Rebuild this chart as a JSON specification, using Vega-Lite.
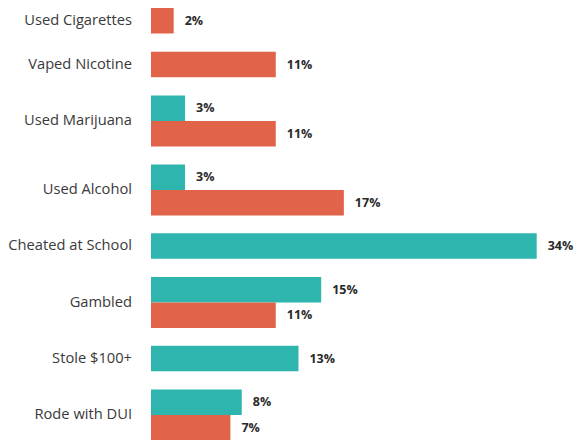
{
  "$schema": "https://vega.github.io/schema/vega-lite/v6.json",
  "background": "white",
  "padding": {"left": 8, "top": 8, "right": 0, "bottom": 0},
  "data": {"values": [
    {"category": "Used Cigarettes", "group": "Group 2", "value": 0.02},
    {"category": "Vaped Nicotine", "group": "Group 2", "value": 0.11},
    {"category": "Used Marijuana", "group": "Group 1", "value": 0.03},
    {"category": "Used Marijuana", "group": "Group 2", "value": 0.11},
    {"category": "Used Alcohol", "group": "Group 1", "value": 0.03},
    {"category": "Used Alcohol", "group": "Group 2", "value": 0.17},
    {"category": "Cheated at School", "group": "Group 1", "value": 0.34},
    {"category": "Gambled", "group": "Group 1", "value": 0.15},
    {"category": "Gambled", "group": "Group 2", "value": 0.11},
    {"category": "Stole $100+", "group": "Group 1", "value": 0.13},
    {"category": "Rode with DUI", "group": "Group 1", "value": 0.08},
    {"category": "Rode with DUI", "group": "Group 2", "value": 0.07}
  ]},
  "facet": {
    "row": {
      "field": "category",
      "type": "nominal",
      "sort": ["Used Cigarettes", "Vaped Nicotine", "Used Marijuana", "Used Alcohol", "Cheated at School", "Gambled", "Stole $100+", "Rode with DUI"],
      "header": {
        "title": null,
        "labelAngle": 0,
        "labelAlign": "left",
        "labelBaseline": "middle",
        "labelOrient": "left",
        "labelPadding": 19,
        "labelFont": "Open Sans",
        "labelFontSize": 14.7,
        "labelColor": "#3a3a3a"
      }
    }
  },
  "spacing": {"row": 17.8},
  "resolve": {"scale": {"y": "independent"}},
  "spec": {
    "width": 422,
    "height": {"step": 25.5},
    "encoding": {
      "y": {"field": "group", "type": "nominal", "axis": null, "scale": {"paddingInner": 0, "paddingOuter": 0}},
      "x": {"field": "value", "type": "quantitative", "axis": null, "scale": {"domain": [0, 0.372]}}
    },
    "layer": [
      {
        "mark": {"type": "bar"},
        "encoding": {
          "color": {"field": "group", "type": "nominal", "legend": null, "scale": {"domain": ["Group 1", "Group 2"], "range": ["#2db5ae", "#e0634a"]}}
        }
      },
      {
        "mark": {"type": "text", "align": "left", "baseline": "middle", "dx": 11, "font": "Open Sans", "fontWeight": "bold", "fontSize": 12.5, "color": "#2a2a2a"},
        "encoding": {
          "text": {"field": "value", "type": "quantitative", "format": ".0%"}
        }
      }
    ]
  },
  "config": {"view": {"stroke": null}}
}
